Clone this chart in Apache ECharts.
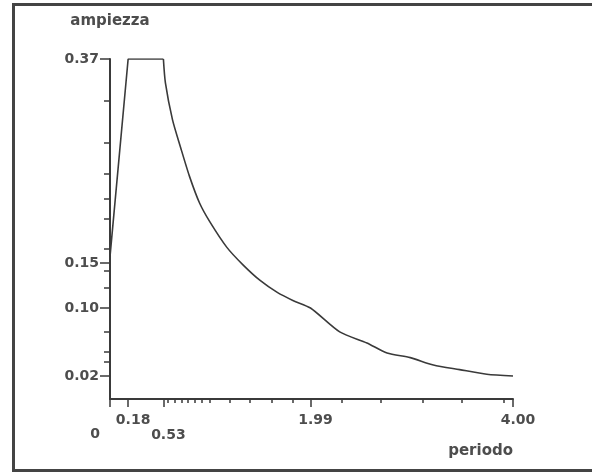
<!DOCTYPE html>
<html>
<head>
<meta charset="utf-8">
<script src="https://cdn.jsdelivr.net/npm/echarts@6/dist/echarts.min.js"></script>
<style>html,body{margin:0;padding:0;background:#fff;}#c{width:592px;height:474px;}</style>
</head>
<body>
<div id="c"></div>
<script>
// period (s) and spectral amplitude
const periodo = [0, 0.18, 0.53, 0.55, 0.62, 0.70, 0.79, 0.89, 0.99, 1.16, 1.32, 1.49, 1.66, 1.82, 1.99, 2.28, 2.55, 2.75, 2.98, 3.21, 3.47, 3.74, 4.00];
const ampiezza = [0.155, 0.37, 0.37, 0.344, 0.304, 0.274, 0.242, 0.213, 0.193, 0.165, 0.146, 0.129, 0.116, 0.107, 0.099, 0.073, 0.061, 0.050, 0.045, 0.037, 0.032, 0.027, 0.025];

const xMajorTicks = [0, 0.18, 0.53, 1.99, 4.00];
const xTickLabels = ['0', '0.18', '0.53', '1.99', '4.00'];
const xMinorTicks = [0.576, 0.645, 0.715, 0.774, 0.844, 0.913, 0.993, 1.19, 1.39, 1.61, 1.81, 2.30, 2.69, 3.10, 3.49, 3.91];

const yMajorTicks = [0.025, 0.099, 0.148, 0.37];
const yTickLabels = ['0.02', '0.10', '0.15', '0.37'];
const yMinorTicks = [0.325, 0.279, 0.245, 0.218, 0.196, 0.164, 0.140, 0.121, 0.073, 0.051, 0.040];

const txt = '#4d4d4d';
const lineCol = '#3a3a3a';
const font = 'DejaVu Sans';

const chart = echarts.init(document.getElementById('c'));
const labelRich = {
  a: { fontFamily: font, fontWeight: 'bold', fontSize: 14, color: txt, padding: [0, 0, 0, 10] },
  b: { fontFamily: font, fontWeight: 'bold', fontSize: 14, color: txt, padding: [15, 0, 0, 10] },
  z: { fontFamily: font, fontWeight: 'bold', fontSize: 14, color: txt, padding: [14, 30, 0, 0] }
};
const pts = periodo.map((t, i) => [t, ampiezza[i]]);
chart.setOption({
  animation: false,
  backgroundColor: '#fff',
  graphic: [{
    type: 'rect', silent: true,
    shape: { x: 13.5, y: 4.5, width: 620, height: 466 },
    style: { fill: 'none', stroke: '#444', lineWidth: 3 }
  }],
  grid: { left: 110, right: 79, top: 59, bottom: 75 },
  xAxis: [{
    type: 'value', min: 0, max: 4, position: 'bottom',
    axisLine: { show: true, onZero: false, lineStyle: { color: lineCol, width: 2 } },
    axisTick: { show: true, customValues: xMinorTicks, length: 4, lineStyle: { color: lineCol, width: 1.5 } },
    axisLabel: { show: false },
    splitLine: { show: false },
    name: 'periodo', nameLocation: 'end', nameGap: 0,
    nameTextStyle: { fontFamily: font, fontWeight: 'bold', fontSize: 15, color: txt, align: 'right', verticalAlign: 'top', padding: [45, 0, 0, 0] }
  }, {
    type: 'value', min: 0, max: 4, position: 'bottom',
    axisLine: { show: false, onZero: false },
    axisTick: { show: true, customValues: xMajorTicks, length: 8, lineStyle: { color: lineCol, width: 1.5 } },
    axisLabel: {
      show: true, customValues: xMajorTicks, margin: 14,
      formatter: function (v) {
        const i = xMajorTicks.indexOf(v);
        const s = xTickLabels[i];
        if (i === 0) return '{z|' + s + '}';
        if (i === 2) return '{b|' + s + '}';
        return '{a|' + s + '}';
      },
      rich: labelRich
    },
    splitLine: { show: false }
  }],
  yAxis: [{
    type: 'value', min: 0, max: 0.37, position: 'left',
    axisLine: { show: true, onZero: false, lineStyle: { color: lineCol, width: 2 } },
    axisTick: { show: true, customValues: yMinorTicks, length: 6, lineStyle: { color: lineCol, width: 1.5 } },
    axisLabel: { show: false },
    splitLine: { show: false },
    name: 'ampiezza', nameLocation: 'end', nameGap: 30,
    nameTextStyle: { fontFamily: font, fontWeight: 'bold', fontSize: 15, color: txt, align: 'center' }
  }, {
    type: 'value', min: 0, max: 0.37, position: 'left',
    axisLine: { show: false, onZero: false },
    axisTick: { show: true, customValues: yMajorTicks, length: 10, lineStyle: { color: lineCol, width: 1.5 } },
    axisLabel: {
      show: true, customValues: yMajorTicks, margin: 11,
      fontFamily: font, fontWeight: 'bold', fontSize: 14, color: txt,
      formatter: function (v) { return yTickLabels[yMajorTicks.indexOf(v)]; }
    },
    splitLine: { show: false }
  }],
  series: [{
    type: 'line', xAxisIndex: 0, yAxisIndex: 0,
    data: pts.slice(0, 3),
    showSymbol: false, smooth: false,
    lineStyle: { color: lineCol, width: 1.6 }
  }, {
    type: 'line', xAxisIndex: 0, yAxisIndex: 0,
    data: pts.slice(2),
    showSymbol: false, smooth: 0.25,
    lineStyle: { color: lineCol, width: 1.6 }
  }]
});
</script>
</body>
</html>
